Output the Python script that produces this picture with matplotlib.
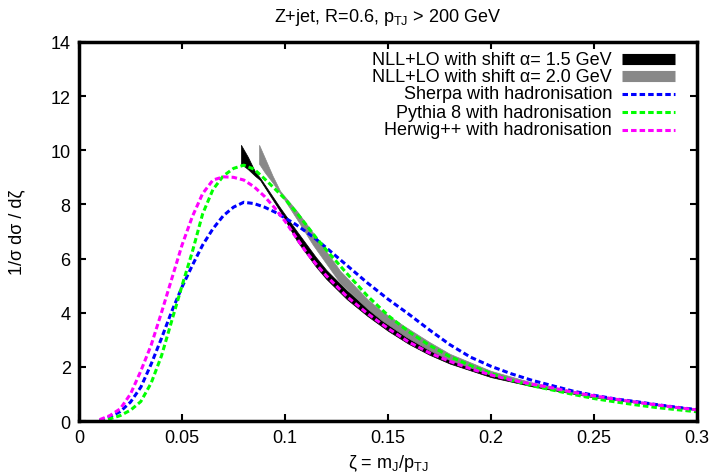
import matplotlib
matplotlib.use("Agg")
import matplotlib.pyplot as plt

plt.rcParams['font.family'] = ['Liberation Sans', 'DejaVu Sans']
plt.rcParams['mathtext.fontset'] = 'custom'
plt.rcParams['mathtext.rm'] = 'Liberation Sans'
plt.rcParams['mathtext.it'] = 'Liberation Sans:italic'

# shower MCs with hadronisation
zeta = [0.01, 0.015, 0.02, 0.025, 0.03, 0.035, 0.04, 0.045, 0.05, 0.055, 0.06, 0.065,
        0.07, 0.075, 0.08, 0.085, 0.09, 0.095, 0.1, 0.105, 0.11, 0.115, 0.12, 0.13,
        0.14, 0.15, 0.16, 0.17, 0.18, 0.19, 0.2, 0.21, 0.22, 0.23, 0.24, 0.25, 0.26,
        0.27, 0.28, 0.29, 0.3]
sherpa = [0.02, 0.15, 0.35, 0.7, 1.25, 2.1, 3.05, 4.05, 4.95, 5.75, 6.5, 7.1,
          7.58, 7.9, 8.08, 8.03, 7.9, 7.72, 7.5, 7.27, 7.0, 6.72, 6.4, 5.75,
          5.1, 4.5, 3.95, 3.37, 2.82, 2.36, 2.02, 1.74, 1.5, 1.3, 1.1, 0.95, 0.82,
          0.72, 0.61, 0.51, 0.42]
pythia = [0.0, 0.08, 0.2, 0.4, 0.72, 1.4, 2.4, 3.7, 5.0, 6.25, 7.65, 8.55,
          9.05, 9.33, 9.45, 9.3, 8.95, 8.58, 8.2, 7.75, 7.27, 6.78, 6.32, 5.45,
          4.62, 3.9, 3.3, 2.8, 2.38, 2.05, 1.76, 1.5, 1.3, 1.14, 0.98, 0.83, 0.71,
          0.6, 0.5, 0.42, 0.34]
herwig = [0.05, 0.2, 0.45, 1.0, 1.85, 2.8, 4.0, 5.25, 6.5, 7.55, 8.4, 8.9,
          9.02, 9.0, 8.9, 8.65, 8.3, 7.87, 7.38, 6.82, 6.27, 5.8, 5.37, 4.6,
          3.97, 3.42, 2.92, 2.52, 2.2, 1.93, 1.7, 1.51, 1.36, 1.22, 1.06, 0.93, 0.81,
          0.7, 0.6, 0.5, 0.41]

# NLL+LO bands (lower / upper edge)
z_a15 = [0.0786, 0.082, 0.0855, 0.0879, 0.0976, 0.1058, 0.115, 0.12, 0.13, 0.14,
         0.15, 0.16, 0.17, 0.18, 0.2, 0.22, 0.25, 0.3]
lo_a15 = [9.5, 9.3, 9.05, 8.9, 7.75, 6.65, 5.7, 5.25, 4.5, 3.88,
          3.33, 2.85, 2.45, 2.12, 1.62, 1.28, 0.87, 0.4]
hi_a15 = [10.2, 9.75, 9.2, 8.98, 7.88, 7.0, 6.05, 5.58, 4.82, 4.17,
          3.6, 3.1, 2.67, 2.3, 1.76, 1.38, 0.93, 0.44]

z_a20 = [0.0874, 0.09, 0.094, 0.0976, 0.1058, 0.1136, 0.1267, 0.14, 0.147, 0.159,
         0.17, 0.18, 0.2, 0.22, 0.25, 0.3]
lo_a20 = [9.5, 9.2, 8.8, 8.42, 7.45, 6.5, 5.1, 4.15, 3.72, 3.1,
          2.62, 2.25, 1.7, 1.32, 0.88, 0.42]
hi_a20 = [10.2, 9.75, 9.05, 8.5, 7.75, 6.95, 5.55, 4.5, 4.05, 3.45,
          2.92, 2.48, 1.85, 1.42, 0.95, 0.45]

BAND_GREY = '#888888'
FS = 13

fig = plt.figure(figsize=(7.12, 4.77), dpi=100)
ax = fig.add_axes([0.111, 0.1153, 0.868, 0.7946])

ax.fill_between(z_a15, lo_a15, hi_a15, color='black', lw=0.5)
ax.fill_between(z_a20, lo_a20, hi_a20, color=BAND_GREY, lw=0.5)

dash = (0, (1.8, 1.0))
ax.plot(zeta, sherpa, color='#0000ff', lw=2.2, ls=dash)
ax.plot(zeta, pythia, color='#00ff00', lw=2.2, ls=dash)
ax.plot(zeta, herwig, color='#ff00ff', lw=2.2, ls=dash)

ax.set_xlim(0, 0.3)
ax.set_ylim(0, 14)
ax.set_xticks([0, 0.05, 0.1, 0.15, 0.2, 0.25, 0.3])
ax.set_xticklabels(['0', '0.05', '0.1', '0.15', '0.2', '0.25', '0.3'])
ax.set_yticks(range(0, 15, 2))
ax.tick_params(direction='in', length=5, width=1.5, top=True, right=True,
               labelsize=FS, pad=6)
for s in ax.spines.values():
    s.set_linewidth(2.5)

ax.set_title(r'Z+jet, R=0.6, p$_{\mathrm{TJ}}$ > 200 GeV', fontsize=FS, pad=15)
ax.set_xlabel(r'ζ = m$_{\mathrm{J}}$/p$_{\mathrm{TJ}}$', fontsize=FS, labelpad=4)
ax.set_ylabel('1/σ dσ / dζ', fontsize=FS, labelpad=18)

# legend drawn by hand: right aligned text, sample to the right
labels = ['NLL+LO with shift α= 1.5 GeV', 'NLL+LO with shift α= 2.0 GeV',
          'Sherpa with hadronisation', 'Pythia 8 with hadronisation',
          'Herwig++ with hadronisation']
colors = ['black', BAND_GREY, '#0000ff', '#00ff00', '#ff00ff']
rows = [0.955, 0.91, 0.863, 0.815, 0.768]
for i, (lab, c, yy) in enumerate(zip(labels, colors, rows)):
    ax.text(0.8625, yy, lab, transform=ax.transAxes, ha='right', va='center', fontsize=FS)
    if i < 2:
        ax.plot([0.879, 0.964], [yy, yy], transform=ax.transAxes, color=c, lw=8,
                solid_capstyle='butt')
    else:
        ax.plot([0.879, 0.964], [yy, yy], transform=ax.transAxes, color=c, lw=2.2, ls=dash)

fig.savefig('out.png', dpi=100)
